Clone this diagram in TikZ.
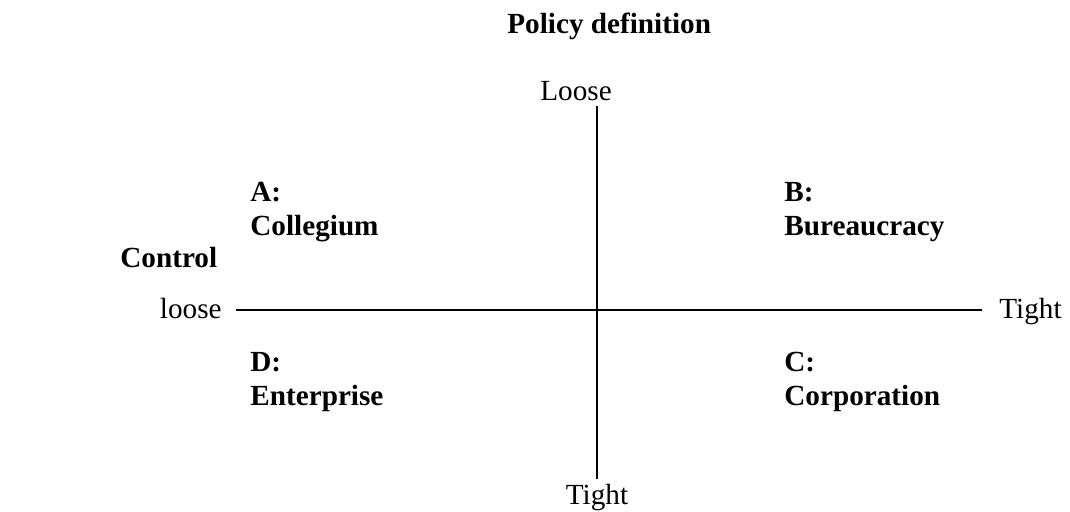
\documentclass[tikz,border=0pt]{standalone}
\usepackage{fontspec}
\setmainfont{Liberation Serif}
\begin{document}
\begin{tikzpicture}[x=0.5pt,y=-0.5pt,
  lbl/.style={inner sep=0pt,anchor=base west,font=\fontsize{14.6}{17}\selectfont},
  blbl/.style={lbl,font=\fontsize{14.6}{17}\selectfont\bfseries},
  axis/.style={line width=0.9pt}]
\useasboundingbox (0,0) rectangle (1070,511);
\node[blbl] (title) at (507,33) {Policy definition};
\node[blbl] (control) at (120,267) {Control};
\node[lbl] (ltop) at (540,100) {Loose};
\node[lbl,anchor=base] (lbot) at (597,504) {Tight};
\node[lbl,anchor=base east] (lleft) at (222,318) {loose};
\node[lbl] (lright) at (999,318) {Tight};
\coordinate (vt) at (597,106);
\coordinate (vb) at (597,479);
\coordinate (hl) at (236,310);
\coordinate (hr) at (982,310);
\draw[axis] (vt) -- (vb);
\draw[axis] (hl) -- (hr);
\node[blbl] (a1) at (250,201) {A:};
\node[blbl] (a2) at (250,235) {Collegium};
\node[blbl] (b1) at (784,201) {B:};
\node[blbl] (b2) at (784,235) {Bureaucracy};
\node[blbl] (d1) at (250,371) {D:};
\node[blbl] (d2) at (250,405) {Enterprise};
\node[blbl] (c1) at (784,371) {C:};
\node[blbl] (c2) at (784,405) {Corporation};
\end{tikzpicture}
\end{document}
